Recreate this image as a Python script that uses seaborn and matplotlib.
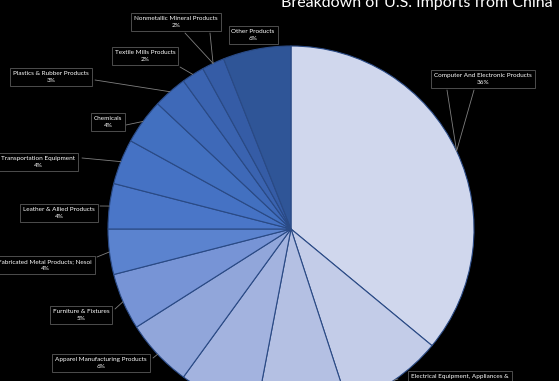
import numpy as np
import matplotlib
matplotlib.use("Agg")
import matplotlib.pyplot as plt
import seaborn as sns

# ---- data ----
categories = [
    "Computer And Electronic Products",
    "Electrical Equipment, Appliances &\nComponents",
    "Machinery, Except Electrical",
    "Miscellaneous Manufactured Commodities",
    "Apparel Manufacturing Products",
    "Furniture & Fixtures",
    "Fabricated Metal Products; Nesoi",
    "Leather & Allied Products",
    "Transportation Equipment",
    "Chemicals",
    "Plastics & Rubber Products",
    "Textile Mills Products",
    "Nonmetallic Mineral Products",
    "Other Products",
]
shares = [36, 9, 8, 7, 6, 5, 4, 4, 4, 4, 3, 2, 2, 6]
title = "Breakdown of U.S. Imports from China"

# ---- style ----
sns.set_theme(style="dark", rc={"figure.facecolor": "black", "axes.facecolor": "black"})
plt.rcParams["font.family"] = ["Lato", "DejaVu Sans"]

colors = sns.color_palette([
    "#d0d7ed", "#c3cce8", "#b4c0e3", "#a3b3df", "#91a6da", "#7794d6",
    "#5b83cf", "#4a76c8", "#4572c4", "#4270c0", "#3e69b8", "#3a63b0",
    "#355ca6", "#2f5597",
])

W, H = 559, 381
CX, CY, R = 291, 229, 183

fig = plt.figure(figsize=(W / 100, H / 100), dpi=100)
fig.patch.set_facecolor("black")
ax = fig.add_axes([0, 0, 1, 1])
ax.set_facecolor("black")

wedges, _ = ax.pie(shares, startangle=90, counterclock=False, colors=colors,
                   radius=1.0, center=(0, 0),
                   wedgeprops=dict(edgecolor="#2a4a85", linewidth=0.8))
ax.set_xlim(-CX / R, (W - CX) / R)
ax.set_ylim(-(H - CY) / R, CY / R)
ax.set_aspect("equal")
ax.axis("off")


def px(x, y):
    return ((x - CX) / R, (CY - y) / R)


# label box centres and leader attach points in pixel space (layout only);
# labels of slices 2 and 3 lie outside the visible crop of the original.
label_pos = {
    0: ((483, 79), [(447, 90), (474, 90)]),
    1: ((460, 384), [(398, 379)]),
    4: ((101, 363), [(153, 358)]),
    5: ((81, 315), [(115, 309)]),
    6: ((45, 265), [(97, 257)]),
    7: ((59, 213), [(100, 206)]),
    8: ((38, 162), [(82, 158)]),
    9: ((108, 122), [(126, 125)]),
    10: ((51, 77), [(95, 80)]),
    11: ((145, 56), [(180, 67)]),
    12: ((176, 22), [(185, 33), (210, 33)]),
    13: ((253, 35), []),
}

for i, (w, name, val) in enumerate(zip(wedges, categories, shares)):
    if i not in label_pos:
        continue
    (tx, ty), attaches = label_pos[i]
    mid = np.deg2rad((w.theta1 + w.theta2) / 2)
    ex, ey = np.cos(mid), np.sin(mid)
    for (axp, ayp) in attaches:
        x0, y0 = px(axp, ayp)
        ax.plot([x0, ex], [y0, ey], color="#7f7f7f", lw=0.6, zorder=1)
    lx, ly = px(tx, ty)
    ax.text(lx, ly, f"{name}\n{val}%", ha="center", va="center",
            color="white", fontsize=4.6, linespacing=1.6, zorder=3,
            bbox=dict(boxstyle="square,pad=0.45", facecolor="black",
                      edgecolor="#595959", linewidth=0.6))

fig.text(0.745, 1 - 7 / H, title, ha="center", va="baseline",
         color="white", fontsize=11.5)

fig.savefig("out.png", dpi=100, facecolor="black")
